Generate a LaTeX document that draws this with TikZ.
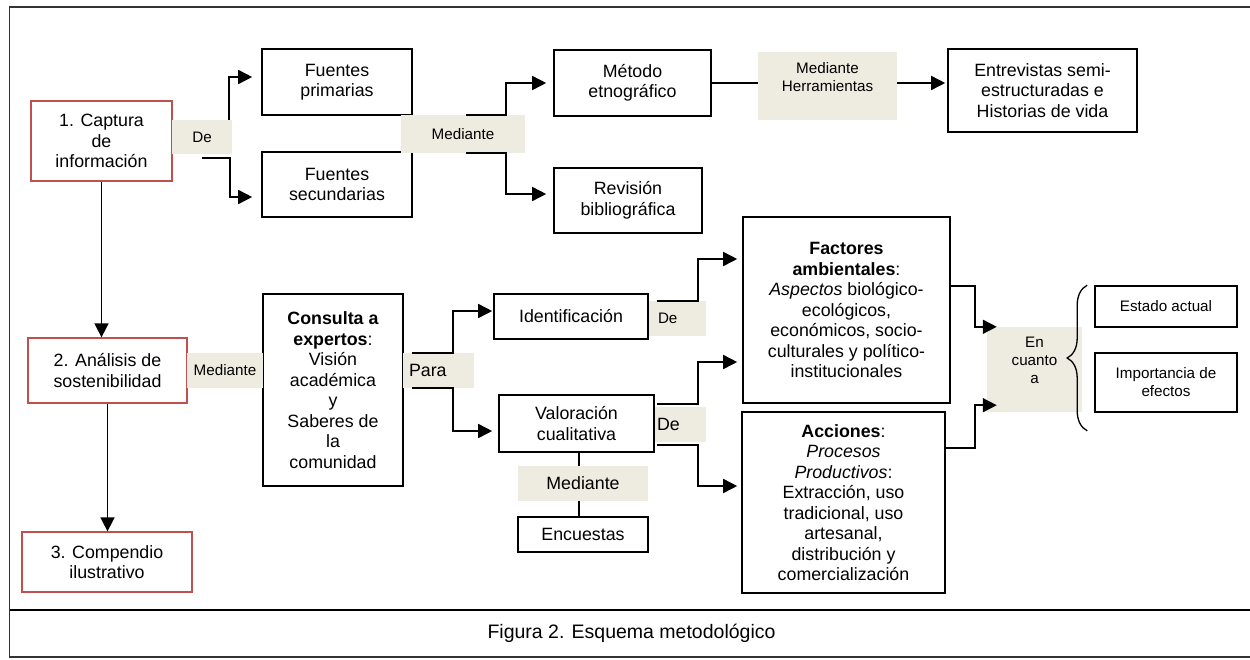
\documentclass[tikz,border=0pt]{standalone}
\usepackage{fontspec}
\setmainfont{Liberation Sans}
\usetikzlibrary{arrows.meta, decorations.pathreplacing}
\definecolor{tagbeige}{HTML}{EEECE1}
\definecolor{phasered}{HTML}{C0504D}

\begin{document}
\begin{tikzpicture}[x=1pt, y=-1pt,
    box/.style={draw, line width=1.6pt, align=center, inner sep=2pt,
                font=\fontsize{17.8}{20.5}\selectfont},
    phase/.style={box, draw=phasered, line width=1.3pt},
    smallbox/.style={box, font=\fontsize{15.2}{18}\selectfont},
    tag/.style={fill=tagbeige, inner sep=0pt, align=center,
                font=\fontsize{15.2}{18}\selectfont},
    bigtag/.style={tag, font=\fontsize{17.8}{20.5}\selectfont},
    tagtext/.style={font=\fontsize{15.2}{18}\selectfont, align=center,
                    anchor=north, yshift=-7pt},
    link/.style={line width=1.6pt, -{Triangle[length=14pt, width=14pt]}},
    wire/.style={line width=1.6pt}]
  \useasboundingbox (0,0) rectangle (1250,659);

  \draw[line width=1.3pt, black!80] (1250,7) -- (9.5,7) -- (9.5,657) -- (1250,657);
  \draw[line width=1.8pt] (9.5,610) -- (1250,610);
  \node[font=\fontsize{19.5}{22}\selectfont] (caption) at (631.5,633)
    {Figura 2. Esquema metodológico};

  \node[phase, minimum width=141pt, minimum height=80pt] (captura) at (101.5,141)
    {1. Captura\\de\\información};
  \node[phase, minimum width=159pt, minimum height=65pt] (analisis) at (107.5,370.5)
    {2. Análisis de\\sostenibilidad};
  \node[phase, minimum width=170pt, minimum height=60pt] (compendio) at (107,562)
    {3. Compendio\\ilustrativo};

  \node[box, minimum width=150pt, minimum height=66pt] (primarias) at (337,82)
    {Fuentes\\primarias};
  \node[box, minimum width=150pt, minimum height=65pt] (secundarias) at (337,184.5)
    {Fuentes\\secundarias};
  \node[box, minimum width=157pt, minimum height=66pt] (etnografico) at (632.5,83)
    {Método\\etnográfico};
  \node[box, minimum width=148pt, minimum height=65pt] (bibliografica) at (628,200.5)
    {Revisión\\bibliográfica};
  \node[box, minimum width=189pt, minimum height=83pt] (entrevistas) at (1042.5,90.5)
    {Entrevistas semi-\\estructuradas e\\Historias de vida};

  \node[box, minimum width=140pt, minimum height=192pt] (consulta) at (333,390)
    {\textbf{Consulta a}\\\textbf{expertos}:\\Visión\\académica\\y\\Saberes de\\la\\comunidad};
  \node[box, minimum width=154pt, minimum height=45pt] (identificacion) at (571,316.5)
    {Identificación};
  \node[box, minimum width=155pt, minimum height=57pt] (valoracion) at (576.5,423.5)
    {Valoración\\cualitativa};
  \node[box, minimum width=130pt, minimum height=35pt] (encuestas) at (583,534.5)
    {Encuestas};
  \node[box, minimum width=207pt, minimum height=186pt] (factores) at (846.5,310)
    {\textbf{Factores}\\\textbf{ambientales}:\\\textit{Aspectos} biológico-\\ecológicos,\\económicos, socio-\\culturales y político-\\institucionales};
  \node[box, minimum width=203pt, minimum height=181pt] (acciones) at (843.5,502.5)
    {\textbf{Acciones}:\\\textit{Procesos}\\\textit{Productivos}:\\Extracción, uso\\tradicional, uso\\artesanal,\\distribución y\\comercialización};
  \node[smallbox, minimum width=142pt, minimum height=41pt] (estado) at (1166,306.5)
    {Estado actual};
  \node[smallbox, minimum width=142pt, minimum height=59pt] (importancia) at (1166,382.5)
    {Importancia de\\efectos};

  \node[tag, minimum width=60pt, minimum height=34pt] (deFuentes) at (202,137) {De};
  \node[tag, minimum width=124pt, minimum height=38pt] (medTecnica) at (463,134) {Mediante};
  \node[tag, minimum width=139pt, minimum height=68pt,
        label={[tagtext]north:Mediante\\Herramientas}] (medHerr) at (827.5,86) {};
  \node[tag, minimum width=76pt, minimum height=35pt] (medConsulta) at (225,370.5) {Mediante};
  \node[bigtag, minimum height=35pt, text width=59pt, inner xsep=6pt, align=left]
    (para) at (438.5,370.5) {Para};
  \node[tag, minimum height=35pt, text width=39pt, inner xsep=9pt, align=left]
    (deIdent) at (677.5,318.5) {De};
  \node[bigtag, minimum height=35pt, text width=47pt, inner xsep=2pt, align=left]
    (deValor) at (680.5,424.5) {De};
  \node[tag, minimum width=95pt, minimum height=85pt,
        label={[tagtext]north:En\\cuanto\\a}] (enCuanto) at (1034.5,369.5) {};

  \draw[link, shorten >=9pt] ([xshift=-3pt]deFuentes.north east) |- ([yshift=5pt]primarias.west);
  \draw[link, shorten >=9pt] ([yshift=-4pt]deFuentes.south) -- ++(28,0) |- ([yshift=-12.5pt]secundarias.west);
  \draw[link, shorten >=7pt] ([xshift=3pt]medTecnica.north) -- ++(40,0) |- (etnografico.west);
  \draw[link, shorten >=7pt] ([xshift=3pt]medTecnica.south) -- ++(40,0) |- ([yshift=6.5pt]bibliografica.west);
  \draw[wire] (etnografico.east) -- (etnografico.east -| medHerr.west);
  \draw[link, shorten >=2pt] (medHerr.east |- etnografico.east) -- (entrevistas.west |- etnografico.east);

  \draw[link] (captura.south) -- (captura.south |- analisis.north);
  \draw[link] (analisis.south) -- (analisis.south |- compendio.north);

  \draw[link, shorten >=1pt] ([xshift=9pt]para.north west) -- ++(41,0) |- ([yshift=5.5pt]identificacion.west);
  \draw[link, shorten >=6pt] ([xshift=9pt]para.south west) -- ++(41,0) |- ([yshift=-7.5pt]valoracion.west);
  \draw[link, shorten >=5pt] ([xshift=8pt]deIdent.north west) -- ++(41,0) |- ([yshift=51pt]factores.west);
  \draw[link, shorten >=5pt] ([xshift=2pt,yshift=3pt]deValor.north west) -- ++(41,0) |- ([yshift=-52pt]factores.west);
  \draw[link, shorten >=4pt] ([xshift=2pt,yshift=-3pt]deValor.south west) -- ++(41,0) |- ([yshift=16.5pt]acciones.west);

  \draw[wire] ([xshift=2.5pt]valoracion.south) -- ([xshift=2.5pt]valoracion.south |- encuestas.north);
  \node[bigtag, minimum width=130pt, minimum height=35pt] (medEncuesta) at (583,483.5) {Mediante};

  \draw[link] ([yshift=24pt]factores.east) -- ++(24,0) |- ([xshift=10pt]enCuanto.north west);
  \draw[link] ([yshift=54.5pt]acciones.east) -- ++(29,0) |- ([xshift=10pt,yshift=7pt]enCuanto.south west);
  \draw[line width=1.3pt, decorate, decoration={brace, amplitude=20pt}]
    ([xshift=-7pt,yshift=-18pt]importancia.south west) -- ([xshift=-7pt]estado.north west);
\end{tikzpicture}
\end{document}
